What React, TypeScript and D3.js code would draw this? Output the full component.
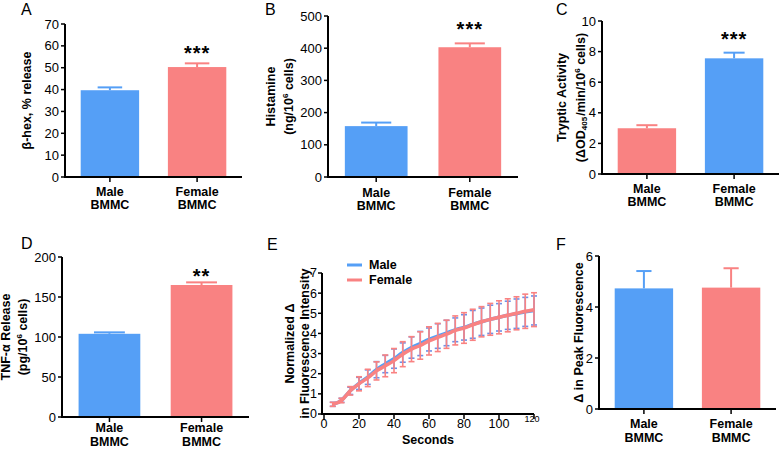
import React, { useEffect } from "react";
import * as d3 from "d3";

const categories = ["Male", "Female"];

// bar panels
const betaHex = [39.7, 50.3];
const betaHexErr = [1.3, 1.7];
const histamine = [158, 403];
const histamineErr = [11, 12];
const tryptic = [2.99, 7.56];
const trypticErr = [0.2, 0.37];
const tnfAlpha = [104, 165];
const tnfAlphaErr = [1.8, 3.3];
const peakFluor = [4.73, 4.76];
const peakFluorErr = [0.68, 0.76];

// panel E time course
const seconds = [5, 10, 15, 20, 25, 30, 35, 40, 45, 50, 55, 60, 65, 70, 75, 80, 85, 90, 95, 100, 105, 110, 115, 120];
const femaleMean = [0.48, 0.67, 1.15, 1.5, 1.79, 2.14, 2.39, 2.65, 2.97, 3.22, 3.4, 3.63, 3.8, 3.96, 4.15, 4.27, 4.43, 4.58, 4.7, 4.8, 4.9, 5.0, 5.1, 5.18];
const femaleSem = [0.1, 0.11, 0.21, 0.35, 0.43, 0.45, 0.54, 0.6, 0.62, 0.62, 0.68, 0.7, 0.7, 0.7, 0.72, 0.76, 0.77, 0.75, 0.79, 0.82, 0.82, 0.82, 0.85, 0.84];
const maleMean = [0.48, 0.68, 1.15, 1.52, 1.83, 2.2, 2.48, 2.75, 3.05, 3.3, 3.5, 3.7, 3.87, 4.02, 4.18, 4.3, 4.45, 4.58, 4.7, 4.8, 4.9, 4.98, 5.07, 5.14];
const maleSem = [0.1, 0.1, 0.18, 0.3, 0.36, 0.4, 0.43, 0.48, 0.48, 0.53, 0.6, 0.57, 0.61, 0.63, 0.59, 0.63, 0.69, 0.68, 0.7, 0.68, 0.7, 0.73, 0.72, 0.72];

const BLUE = "#559ff6";
const PINK = "#f98282";
const FONT = "'Liberation Sans', Arial, Helvetica, sans-serif";

const Sup = ({ t }) => (
  <>
    <tspan dy={-4} fontSize={8}>{t}</tspan>
    <tspan dy={4}>{" "}</tspan>
  </>
);
const Sub = ({ t }) => (
  <>
    <tspan dy={3} fontSize={8}>{t}</tspan>
    <tspan dy={-3}>{"\u200a"}</tspan>
  </>
);

const barPanels = [
  {
    letter: "A", lx: 21, ly: 15, left: 65, right: 242, top: 24, bottom: 177, max: 70, step: 10,
    values: betaHex, errs: betaHexErr, colors: [BLUE, PINK], cap: 0.42, stars: "***", starY: 60,
    labelDy: [19, 32],
    ylabel: [{ x: 27, content: <>β-hex, % release</> }],
  },
  {
    letter: "B", lx: 265, ly: 15, left: 328, right: 518, top: 16, bottom: 177, max: 500, step: 100,
    values: histamine, errs: histamineErr, colors: [BLUE, PINK], cap: 0.48, stars: "***", starY: 36,
    labelDy: [20, 33],
    ylabel: [
      { x: 271, content: <>Histamine</> },
      { x: 289, content: <>(ng/10<Sup t="6" />cells)</> },
    ],
  },
  {
    letter: "C", lx: 556, ly: 15, left: 602, right: 779, top: 21, bottom: 174, max: 10, step: 2,
    values: tryptic, errs: trypticErr, colors: [PINK, BLUE], cap: 0.36, stars: "***", starY: 46,
    labelDy: [19, 32],
    ylabel: [
      { x: 562, content: <>Tryptic Activity</> },
      { x: 581, content: <>(ΔOD<Sub t="405" />/min/10<Sup t="6" />cells)</> },
    ],
  },
  {
    letter: "D", lx: 21, ly: 249, left: 62, right: 249, top: 257, bottom: 417, max: 200, step: 50,
    values: tnfAlpha, errs: tnfAlphaErr, colors: [BLUE, PINK], cap: 0.5, stars: "**", starY: 283,
    labelDy: [15, 29],
    ylabel: [
      { x: 6, content: <>TNF-α Release</> },
      { x: 23, content: <>(pg/10<Sup t="6" />cells)</> },
    ],
  },
  {
    letter: "F", lx: 556, ly: 250, left: 599, right: 776, top: 256, bottom: 409, max: 6, step: 2,
    values: peakFluor, errs: peakFluorErr, colors: [BLUE, PINK], cap: 0.26, stars: "", starY: 0,
    labelDy: [19, 33],
    ylabel: [{ x: 579, content: <>Δ  in Peak Fluorescence</> }],
  },
];

function BarPanel({ p }) {
  const y = d3.scaleLinear().domain([0, p.max]).range([p.bottom, p.top]);
  const x = d3
    .scaleBand()
    .domain(categories)
    .range([p.left, p.right])
    .paddingInner(0.33)
    .paddingOuter(0.18);
  const ticks = d3.range(0, p.max + p.step / 2, p.step);
  const cy = (p.top + p.bottom) / 2;
  const bw = x.bandwidth();
  return (
    <g>
      <text x={p.lx} y={p.ly} fontSize={16}>{p.letter}</text>
      {categories.map((c, i) => {
        const cx = x(c) + bw / 2;
        const capW = bw * p.cap;
        return (
          <g key={c}>
            <line x1={cx} x2={cx} y1={y(p.values[i])} y2={y(p.values[i] + p.errs[i])} stroke={p.colors[i]} strokeWidth={2} />
            <line x1={cx - capW / 2} x2={cx + capW / 2} y1={y(p.values[i] + p.errs[i])} y2={y(p.values[i] + p.errs[i])} stroke={p.colors[i]} strokeWidth={2} />
            <rect x={x(c)} width={bw} y={y(p.values[i])} height={p.bottom - y(p.values[i])} fill={p.colors[i]} />
            <line x1={cx} x2={cx} y1={p.bottom} y2={p.bottom + 5} stroke="#000" strokeWidth={1.5} />
            <text x={cx} y={p.bottom + p.labelDy[0]} textAnchor="middle" fontWeight="bold" fontSize={12.5}>{c}</text>
            <text x={cx} y={p.bottom + p.labelDy[1]} textAnchor="middle" fontWeight="bold" fontSize={12.5}>BMMC</text>
          </g>
        );
      })}
      {p.stars && (
        <text x={x("Female") + bw / 2} y={p.starY} textAnchor="middle" fontWeight="bold" fontSize={20} letterSpacing={1}>{p.stars}</text>
      )}
      {ticks.map((t) => (
        <g key={t}>
          <line x1={p.left - 4} x2={p.left} y1={y(t)} y2={y(t)} stroke="#000" strokeWidth={1.5} />
          <text x={p.left - 6} y={y(t)} dy="0.35em" textAnchor="end" fontSize={13}>{t}</text>
        </g>
      ))}
      <line x1={p.left} x2={p.left} y1={p.top} y2={p.bottom + 1} stroke="#000" strokeWidth={2} />
      <line x1={p.left - 1} x2={p.right} y1={p.bottom} y2={p.bottom} stroke="#000" strokeWidth={2} />
      {p.ylabel.map((l, i) => (
        <text key={i} transform={`translate(${l.x},${cy}) rotate(-90)`} textAnchor="middle" dominantBaseline="central" fontWeight="bold" fontSize={12.5}>
          {l.content}
        </text>
      ))}
    </g>
  );
}

function TimePanel() {
  const left = 322, bottom = 414, top = 273;
  const x = d3.scaleLinear().domain([0, 120]).range([324, 534]);
  const y = d3.scaleLinear().domain([0, 7]).range([bottom, top]);
  const line = (m) =>
    d3.line().x((d, i) => x(seconds[i])).y((d) => y(d)).curve(d3.curveMonotoneX)(m);
  const errBars = (m, s, color, key) =>
    seconds.map((t, i) => (
      <g key={key + t} stroke={color} strokeWidth={1.6}>
        <line x1={x(t)} x2={x(t)} y1={y(m[i] - s[i])} y2={y(m[i] + s[i])} />
        <line x1={x(t) - 3} x2={x(t) + 3} y1={y(m[i] - s[i])} y2={y(m[i] - s[i])} />
        <line x1={x(t) - 3} x2={x(t) + 3} y1={y(m[i] + s[i])} y2={y(m[i] + s[i])} />
      </g>
    ));
  const cy = (top + bottom) / 2;
  return (
    <g>
      <text x={267} y={250} fontSize={16}>E</text>
      {errBars(maleMean, maleSem, "#6f8fe6", "m")}
      <path d={line(maleMean)} fill="none" stroke={BLUE} strokeWidth={3.5} />
      {errBars(femaleMean, femaleSem, PINK, "f")}
      <path d={line(femaleMean)} fill="none" stroke={PINK} strokeWidth={3.5} />
      {d3.range(0, 8).map((t) => (
        <g key={t}>
          <line x1={left - 4} x2={left} y1={y(t)} y2={y(t)} stroke="#000" strokeWidth={1.5} />
          <text x={left - 5} y={y(t)} dy="0.35em" textAnchor="end" fontSize={12.5}>{t}</text>
        </g>
      ))}
      {x.ticks(6).map((t) => (
        <g key={t}>
          <line x1={x(t)} x2={x(t)} y1={bottom} y2={bottom + 5} stroke="#000" strokeWidth={1.5} />
          {t === 120 ? (
            <text x={x(t) - 2} y={422} textAnchor="middle" fontSize={9}>{t}</text>
          ) : (
            <text x={x(t)} y={428} textAnchor="middle" fontSize={12.5}>{t}</text>
          )}
        </g>
      ))}
      <line x1={left} x2={left} y1={top} y2={bottom + 1} stroke="#000" strokeWidth={2} />
      <line x1={left - 1} x2={534} y1={bottom} y2={bottom} stroke="#000" strokeWidth={2} />
      <text x={428} y={444} textAnchor="middle" fontWeight="bold" fontSize={12.5}>Seconds</text>
      <text transform={`translate(290,${cy}) rotate(-90)`} textAnchor="middle" dominantBaseline="central" fontWeight="bold" fontSize={12.5}>Normalized Δ</text>
      <text transform={`translate(305,${cy}) rotate(-90)`} textAnchor="middle" dominantBaseline="central" fontWeight="bold" fontSize={12.5}>in Fluorescence Intensity</text>
      {categories.map((c, i) => (
        <g key={c}>
          <line x1={347} x2={362} y1={265 + i * 15} y2={265 + i * 15} stroke={i === 0 ? BLUE : PINK} strokeWidth={3} />
          <text x={369} y={265 + i * 15} dy="0.35em" fontWeight="bold" fontSize={12.5}>{c}</text>
        </g>
      ))}
    </g>
  );
}

export default function App() {
  useEffect(() => {
    document.body.style.margin = "0";
  }, []);
  return (
    <svg width={779} height={451} style={{ display: "block", fontFamily: FONT, background: "#fff" }}>
      {barPanels.map((p) => (
        <BarPanel key={p.letter} p={p} />
      ))}
      <TimePanel />
    </svg>
  );
}
